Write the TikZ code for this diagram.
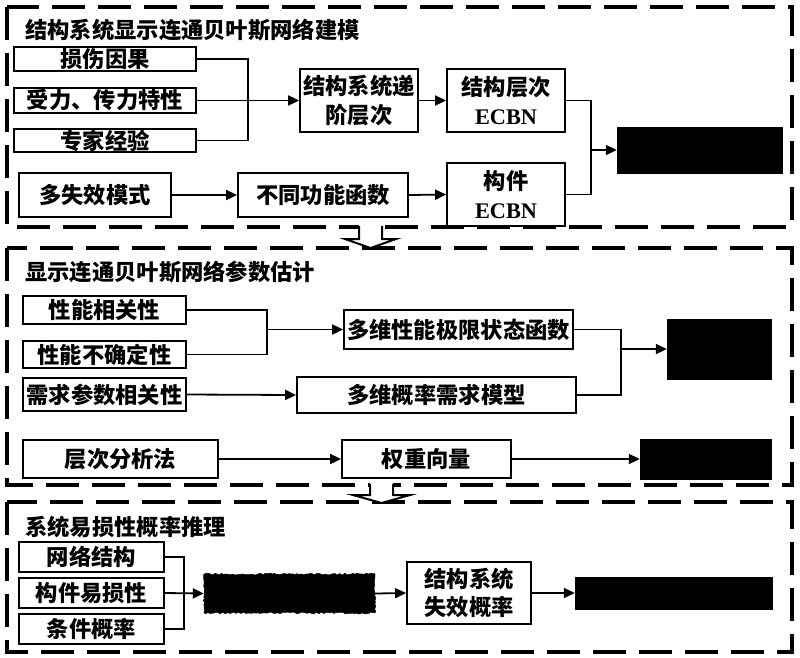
\documentclass[tikz,border=0pt]{standalone}
\usepackage{fontspec}
\setmainfont{Liberation Serif}
\newfontfamily\cjk{Noto Sans CJK SC}
\newfontfamily\lat{Liberation Serif}
\usetikzlibrary{arrows.meta,decorations.pathmorphing}
\begin{document}
\begin{tikzpicture}[x=1pt,y=-1pt,
  box/.style={draw=black,line width=1.8pt,fill=white,inner sep=0pt,align=center,
    font=\cjk\bfseries\fontsize{22.3}{28.5}\selectfont},
  blk/.style={fill=black,draw=black,inner sep=0pt},
  panel/.style={draw=black,line width=4pt,dash pattern=on 33pt off 13pt},
  ttl/.style={anchor=west,inner sep=0pt,font=\cjk\bfseries\fontsize{22.3}{26}\selectfont},
  conn/.style={draw=black,line width=1.8pt},
  arr/.style={conn,-{Triangle[length=11pt,width=10pt]}},
  barrow/.style={draw=black,line width=2pt,fill=white}]
\useasboundingbox (0,0) rectangle (800,657);
% panels
\draw[panel] (7,7) rectangle (792,227);
\draw[panel] (7,248) rectangle (792,485);
\draw[panel] (7,502) rectangle (792,652);
% block arrows between panels
\fill[white] (359,224) -- (359,239) -- (345,239) -- (370.5,248) -- (396,239) -- (382,239) -- (382,224) -- cycle;
\draw[barrow,fill=none] (359,226) -- (359,239) -- (345,239) -- (370.5,248) -- (396,239) -- (382,239) -- (382,226);
\fill[white] (370,482) -- (370,495) -- (353,495) -- (381.5,503) -- (410,495) -- (393,495) -- (393,482) -- cycle;
\draw[barrow,fill=none] (370,484) -- (370,495) -- (353,495) -- (381.5,503) -- (410,495) -- (393,495) -- (393,484);
% titles
\node[ttl] (t1) at (25,30) {结构系统显示连通贝叶斯网络建模};
\node[ttl] (t2) at (25,272) {显示连通贝叶斯网络参数估计};
\node[ttl] (t3) at (25,527) {系统易损性概率推理};
% panel 1
\node[box,minimum width=182pt,minimum height=24pt] (a1) at (105,59) {损伤因果};
\node[box,minimum width=182pt,minimum height=25pt] (a2) at (105,100.5) {受力、传力特性};
\node[box,minimum width=182pt,minimum height=23pt] (a3) at (105,140.5) {专家经验};
\node[box,minimum width=118pt,minimum height=63pt] (b) at (359,100.5) {结构系统递\\阶层次};
\node[box,minimum width=118pt,minimum height=63pt] (c) at (506,100.5) {结构层次\\{\lat\bfseries ECBN}};
\node[box,minimum width=118pt,minimum height=63pt] (d) at (506,194.5) {构件\\{\lat\bfseries ECBN}};
\node[box,minimum width=152pt,minimum height=44pt] (e) at (95,195) {多失效模式};
\node[box,minimum width=170pt,minimum height=44pt] (f) at (323,195) {不同功能函数};
\node[blk,minimum width=165pt,minimum height=46pt] (k1) at (699.5,150) {};
\coordinate (j1) at (248,100.5);
\coordinate (j2) at (591,150);
\draw[conn] (a1.east) -| (j1) |- (a3.east);
\draw[arr] (a2.east) -- (b.west);
\draw[arr] (b.east) -- (c.west);
\draw[arr] (e.east) -- (f.west);
\draw[arr] (f.east) -- (d.west);
\draw[conn] (c.east) -| (j2) |- (d.east);
\draw[arr] (j2) -- (k1.west);
% panel 2
\node[box,minimum width=163pt,minimum height=28pt] (p1) at (104.5,310) {性能相关性};
\node[box,minimum width=163pt,minimum height=27pt] (p2) at (104.5,354.5) {性能不确定性};
\node[box,minimum width=163pt,minimum height=33pt] (p3) at (104.5,394.5) {需求参数相关性};
\node[box,minimum width=195pt,minimum height=38pt] (p4) at (120.5,459) {层次分析法};
\node[box,minimum width=229pt,minimum height=39pt] (q1) at (458.5,329.5) {多维性能极限状态函数};
\node[box,minimum width=279pt,minimum height=36pt] (q2) at (436.5,395) {多维概率需求模型};
\node[box,minimum width=169pt,minimum height=38pt] (q3) at (426.5,459) {权重向量};
\node[blk,minimum width=104pt,minimum height=60pt] (k2) at (719,349) {};
\node[blk,minimum width=131pt,minimum height=40pt] (k3) at (705.5,459) {};
\coordinate (j3) at (267,329.5);
\coordinate (j4) at (621,349);
\draw[conn] (p1.east) -| (j3) |- (p2.east);
\draw[arr] (j3) -- (q1.west);
\draw[arr] (p3.east) -- (q2.west);
\draw[conn] (q1.east) -| (j4) |- (q2.east);
\draw[arr] (j4) -- (k2.west);
\draw[arr] (p4.east) -- (q3.west);
\draw[arr] (q3.east) -- (k3.west);
% panel 3
\node[box,minimum width=145pt,minimum height=30pt] (r1) at (91.5,557) {网络结构};
\node[box,minimum width=145pt,minimum height=30pt] (r2) at (91.5,593) {构件易损性};
\node[box,minimum width=145pt,minimum height=30pt] (r3) at (91.5,629) {条件概率};
\node[blk,minimum width=171pt,minimum height=39pt,decorate,
  decoration={random steps,segment length=2pt,amplitude=1pt}] (k4) at (289.5,593.5) {};
\node[box,minimum width=124pt,minimum height=62pt] (s) at (469,593) {结构系统\\失效概率};
\node[blk,minimum width=197pt,minimum height=32pt] (k5) at (673.5,593) {};
\coordinate (j5) at (184,593);
\draw[conn] (r1.east) -| (j5) |- (r3.east);
\draw[arr] (r2.east) -- (k4.west);
\draw[arr] (k4.east) -- (s.west);
\draw[arr] (s.east) -- (k5.west);
\end{tikzpicture}
\end{document}
